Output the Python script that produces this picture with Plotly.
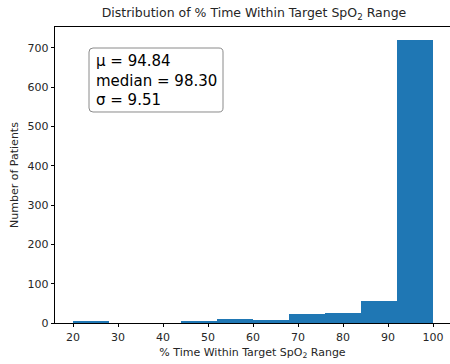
import plotly.graph_objects as go

bin_edges = [20, 28, 36, 44, 52, 60, 68, 76, 84, 92, 100]
counts = [3, 0, 0, 5, 11, 7, 23, 26, 57, 720]
stats_text = ["μ = 94.84", "median = 98.30", "σ = 9.51"]
x_ticks = [20, 30, 40, 50, 60, 70, 80, 90, 100]
y_ticks = [0, 100, 200, 300, 400, 500, 600, 700]

centers = [(a + b) / 2 for a, b in zip(bin_edges[:-1], bin_edges[1:])]
widths = [b - a for a, b in zip(bin_edges[:-1], bin_edges[1:])]

W, H = 450, 364
ml, mr, mt, mb = 55, 0, 27, 41

fig = go.Figure()
fig.add_trace(go.Bar(x=centers, y=counts, width=widths,
                     marker=dict(color="#1f77b4", line=dict(width=0)),
                     hoverinfo="skip"))

pw = W - ml - mr
ph = H - mt - mb

def px_to_paper(px, py):
    return (px - ml) / pw, (H - mb - py) / ph

# rounded text box
x0, y0, x1, y1, r = 89, 48, 223, 112, 4
def P(px, py):
    a, b = px_to_paper(px, py)
    return f"{a:.5f},{b:.5f}"
path = (f"M {P(x0 + r, y0)} L {P(x1 - r, y0)} Q {P(x1, y0)} {P(x1, y0 + r)} "
        f"L {P(x1, y1 - r)} Q {P(x1, y1)} {P(x1 - r, y1)} "
        f"L {P(x0 + r, y1)} Q {P(x0, y1)} {P(x0, y1 - r)} "
        f"L {P(x0, y0 + r)} Q {P(x0, y0)} {P(x0 + r, y0)} Z")
fig.add_shape(type="path", path=path, xref="paper", yref="paper",
              line=dict(color="#8a8a8a", width=1), fillcolor="rgba(255,255,255,0.8)")

ax, ay = px_to_paper(94, 80)
fig.add_annotation(text="<br>".join(stats_text), xref="paper", yref="paper",
                   x=ax, y=ay, xanchor="left", yanchor="middle", align="left",
                   showarrow=False, font=dict(family="DejaVu Sans", size=15, color="black"))

fig.update_layout(
    width=W, height=H,
    margin=dict(l=ml, r=mr, t=mt, b=mb),
    paper_bgcolor="white", plot_bgcolor="white",
    showlegend=False, bargap=0,
    font=dict(family="DejaVu Sans", size=11, color="#262626"),
    title=dict(text="Distribution of % Time Within Target SpO<sub>2</sub> Range",
               x=254 / W, xanchor="center", y=1 - 13 / H, yanchor="middle",
               font=dict(family="DejaVu Sans", size=12.5, color="#262626")),
    xaxis=dict(range=[16, 16 + pw / 4.5], tickvals=x_ticks, ticks="outside", ticklen=3.5,
               tickwidth=0.8, tickcolor="black", showline=True, linecolor="black", linewidth=0.8,
               mirror=True, showgrid=False, zeroline=False,
               title=dict(text="% Time Within Target SpO<sub>2</sub> Range", standoff=5,
                          font=dict(size=11))),
    yaxis=dict(range=[0, ph / 0.393], tickvals=y_ticks, ticks="outside", ticklen=3.5,
               tickwidth=0.8, tickcolor="black", showline=True, linecolor="black", linewidth=0.8,
               showgrid=False, zeroline=False,
               title=dict(text="Number of Patients", standoff=6, font=dict(size=11))),
)

fig.write_html("out.html")
